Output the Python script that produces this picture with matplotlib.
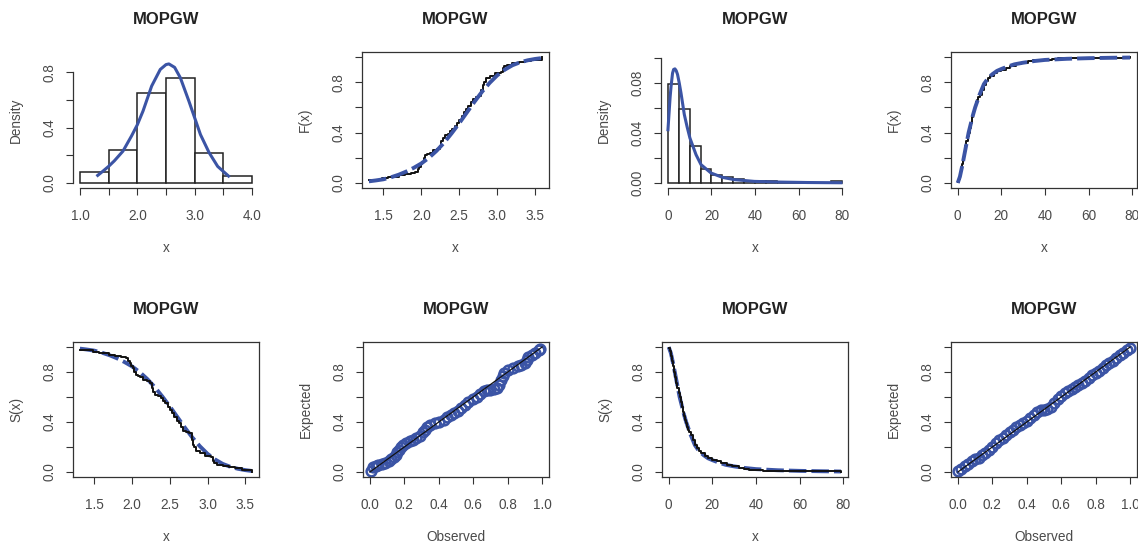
import numpy as np
import matplotlib
matplotlib.use("Agg")
import matplotlib.pyplot as plt

plt.rcParams.update({
    'font.family': ['Liberation Sans', 'DejaVu Sans'],
    'font.size': 9.5,
})

BLUE = "#3b54a5"
GREY = "#4a4a4a"
W, H = 1138, 542

# ---- data set 1 (range 1.31 - 3.59) ----
hist1_breaks = [1.0, 1.5, 2.0, 2.5, 3.0, 3.5, 4.0]
hist1_dens = [0.08, 0.24, 0.65, 0.76, 0.22, 0.05]

pdf1_x = [1.31, 1.40, 1.50, 1.60, 1.75, 1.90, 2.00, 2.10, 2.25, 2.40, 2.50, 2.55,
          2.65, 2.75, 2.90, 3.00, 3.10, 3.25, 3.40, 3.50, 3.59]
pdf1_y = [0.055, 0.085, 0.12, 0.16, 0.23, 0.34, 0.42, 0.52, 0.70, 0.82, 0.855, 0.86,
          0.835, 0.76, 0.59, 0.47, 0.35, 0.22, 0.12, 0.083, 0.05]

ecdf1_x = [1.31, 1.48, 1.56, 1.70, 1.78, 1.86, 1.92, 1.95, 1.97, 1.99, 2.01, 2.03,
           2.05, 2.08, 2.11, 2.15, 2.20, 2.24, 2.26, 2.28, 2.31, 2.35, 2.38, 2.41,
           2.44, 2.47, 2.50, 2.53, 2.56, 2.59, 2.62, 2.65, 2.68, 2.72, 2.76, 2.79,
           2.81, 2.82, 2.85, 2.90, 2.97, 3.05, 3.07, 3.09, 3.13, 3.20, 3.28, 3.36,
           3.45, 3.59]
ecdf1_F = [0.02, 0.04, 0.05, 0.06, 0.07, 0.08, 0.09, 0.11, 0.13, 0.15, 0.17, 0.20,
           0.22, 0.23, 0.24, 0.26, 0.27, 0.29, 0.33, 0.36, 0.38, 0.39, 0.41, 0.43,
           0.45, 0.48, 0.50, 0.53, 0.56, 0.59, 0.61, 0.64, 0.67, 0.68, 0.69, 0.74,
           0.78, 0.80, 0.83, 0.85, 0.87, 0.88, 0.91, 0.93, 0.94, 0.95, 0.96, 0.97,
           0.98, 1.0]

cdf1_x = [1.31, 1.40, 1.50, 1.60, 1.70, 1.80, 1.90, 2.00, 2.10, 2.20, 2.30, 2.40,
          2.50, 2.60, 2.70, 2.80, 2.90, 3.00, 3.10, 3.20, 3.30, 3.40, 3.50, 3.59]
cdf1_F = [0.013, 0.020, 0.029, 0.045, 0.065, 0.090, 0.120, 0.155, 0.200, 0.255, 0.320, 0.395,
          0.475, 0.560, 0.645, 0.725, 0.795, 0.855, 0.900, 0.935, 0.958, 0.974, 0.985, 0.992]

pp1_obs = [0.005, 0.02, 0.035, 0.05, 0.07, 0.09, 0.11, 0.125, 0.14, 0.15, 0.16, 0.17,
           0.18, 0.19, 0.21, 0.23, 0.25, 0.27, 0.29, 0.31, 0.32, 0.33, 0.35, 0.38,
           0.40, 0.43, 0.45, 0.47, 0.49, 0.51, 0.53, 0.55, 0.57, 0.60, 0.62, 0.64,
           0.66, 0.68, 0.70, 0.72, 0.74, 0.75, 0.76, 0.77, 0.78, 0.80, 0.83, 0.86,
           0.88, 0.90, 0.91, 0.92, 0.94, 0.96, 0.98, 0.99]
pp1_exp = [0.01, 0.04, 0.05, 0.055, 0.065, 0.075, 0.09, 0.105, 0.12, 0.14, 0.16, 0.18,
           0.20, 0.215, 0.235, 0.245, 0.255, 0.27, 0.29, 0.32, 0.34, 0.36, 0.375, 0.39,
           0.40, 0.42, 0.44, 0.455, 0.475, 0.49, 0.51, 0.535, 0.56, 0.585, 0.60, 0.625,
           0.645, 0.655, 0.66, 0.665, 0.675, 0.70, 0.74, 0.77, 0.79, 0.82, 0.835, 0.845,
           0.86, 0.875, 0.90, 0.92, 0.935, 0.95, 0.975, 0.985]

# ---- data set 2 (range 0.08 - 79.05) ----
hist2_breaks = [0, 5, 10, 15, 20, 25, 30, 35, 40, 45, 50, 55, 60, 65, 70, 75, 80]
hist2_dens = [0.0797, 0.0594, 0.0297, 0.0109, 0.0063, 0.0047, 0.0031, 0.0016,
              0.0016, 0.0016, 0, 0, 0, 0, 0, 0.0016]

pdf2_x = [0, 0.6, 1.0, 1.4, 2.1, 2.6, 3.2, 3.8, 4.4, 5.2, 6.0, 7.5, 8.8, 10.1,
          12.9, 15.2, 19.8, 25.1, 30.5, 39.7, 50, 64, 79.5]
pdf2_y = [0.0427, 0.0587, 0.069, 0.077, 0.088, 0.091, 0.0915, 0.090, 0.087, 0.080,
          0.072, 0.055, 0.045, 0.036, 0.0227, 0.0147, 0.008, 0.0045, 0.0027, 0.0013,
          0.0008, 0.0004, 0.0002]

ecdf2_x = [0.08, 0.5, 1.0, 1.5, 2.0, 2.5, 3.0, 3.5, 4.0, 4.5, 5.0, 5.5, 6.0, 6.5, 7.0,
           7.5, 8.0, 8.5, 9.0, 9.5, 10.0, 11.0, 12.0, 13.0, 14.0, 15.0, 16.5, 18.0,
           20.0, 22.0, 24.0, 26.5, 29.0, 32.0, 34.5, 37.0, 43.0, 46.0, 79.05]
ecdf2_F = [0.008, 0.03, 0.07, 0.11, 0.15, 0.20, 0.24, 0.29, 0.33, 0.37, 0.40, 0.44,
           0.48, 0.52, 0.55, 0.58, 0.61, 0.64, 0.66, 0.68, 0.70, 0.74, 0.78, 0.81,
           0.83, 0.85, 0.87, 0.89, 0.90, 0.915, 0.93, 0.945, 0.955, 0.965, 0.973,
           0.98, 0.988, 0.992, 1.0]

cdf2_x = [0, 1, 2, 3, 4, 5, 6, 7, 8, 10, 12, 14, 16, 18, 20, 23, 26, 30, 35, 40, 50, 60, 70, 79]
cdf2_F = [0.0, 0.05, 0.13, 0.22, 0.31, 0.40, 0.47, 0.54, 0.60, 0.70, 0.785, 0.835, 0.865,
          0.89, 0.905, 0.925, 0.942, 0.955, 0.968, 0.977, 0.986, 0.991, 0.994, 0.996]

pp2_obs = [0.0, 0.02, 0.04, 0.06, 0.08, 0.10, 0.12, 0.14, 0.16, 0.18, 0.20, 0.22, 0.24,
           0.26, 0.28, 0.30, 0.32, 0.34, 0.36, 0.38, 0.40, 0.42, 0.44, 0.46, 0.48, 0.50,
           0.52, 0.54, 0.56, 0.58, 0.60, 0.62, 0.64, 0.66, 0.68, 0.70, 0.72, 0.74, 0.76,
           0.78, 0.80, 0.82, 0.84, 0.86, 0.88, 0.90, 0.92, 0.94, 0.96, 0.98, 1.0]
pp2_exp = [0.005, 0.025, 0.045, 0.065, 0.09, 0.105, 0.115, 0.14, 0.155, 0.175, 0.20,
           0.235, 0.255, 0.27, 0.295, 0.32, 0.34, 0.36, 0.38, 0.39, 0.405, 0.43, 0.46,
           0.48, 0.495, 0.50, 0.505, 0.52, 0.555, 0.585, 0.61, 0.63, 0.65, 0.665, 0.68,
           0.695, 0.71, 0.725, 0.75, 0.78, 0.795, 0.81, 0.83, 0.86, 0.875, 0.89, 0.91,
           0.935, 0.955, 0.975, 0.99]

fig = plt.figure(figsize=(W / 100, H / 100), dpi=100)


def panel(left, top, right, bottom, xlim, ylim, box=True):
    ax = fig.add_axes([left / W, 1 - bottom / H, (right - left) / W, (bottom - top) / H])
    ax.set_xlim(xlim)
    ax.set_ylim(ylim)
    ax.tick_params(direction='out', length=4.8, width=0.8, color='#333333',
                   labelcolor=GREY, labelsize=9.8)
    ax.tick_params(axis='x', pad=10)
    ax.tick_params(axis='y', pad=7)
    for s in ax.spines.values():
        s.set_color('#333333')
        s.set_linewidth(0.9)
    if not box:
        ax.spines['top'].set_visible(False)
        ax.spines['right'].set_visible(False)
    return ax


def labels(ax, xlab, ylab, hpx, wpx):
    ax.text(0.5, 1 + 33 / hpx, "MOPGW", transform=ax.transAxes, ha='center',
            va='center', fontsize=12, fontweight='bold', color='#222222')
    ax.text(0.5, -60 / hpx, xlab, transform=ax.transAxes, ha='center', va='center',
            color=GREY, fontsize=9.8)
    ax.text(-57 / wpx, 0.5, ylab, transform=ax.transAxes, ha='center', va='center',
            rotation=90, color=GREY, fontsize=9.8)


def yticks(ax, ticks, labs):
    ax.set_yticks(ticks)
    ax.set_yticklabels(labs, rotation=90, va='center')


def xticks(ax, ticks, labs):
    ax.set_xticks(ticks)
    ax.set_xticklabels(labs)


yt = [0, 0.2, 0.4, 0.6, 0.8, 1.0]
ytl = ["0.0", "", "0.4", "", "0.8", ""]

# panel 1: histogram + density, data set 1
ax = panel(73, 52, 259, 188, (0.88, 4.12), (-0.036, 0.946), box=False)
ax.bar(hist1_breaks[:-1], hist1_dens, width=np.diff(hist1_breaks), align='edge',
       facecolor='white', edgecolor='#222222', linewidth=1.1)
ax.plot(pdf1_x, pdf1_y, color=BLUE, lw=2.2)
ax.spines['left'].set_bounds(0, 0.8)
ax.spines['bottom'].set_bounds(1, 4)
xticks(ax, [1, 1.5, 2, 2.5, 3, 3.5, 4], ["1.0", "", "2.0", "", "3.0", "", "4.0"])
yticks(ax, [0, 0.2, 0.4, 0.6, 0.8], ["0.0", "", "0.4", "", "0.8"])
labels(ax, "x", "Density", 136, 186)

# panel 2: ECDF + fitted CDF, data set 1
ax = panel(362, 52, 549, 188, (1.219, 3.681), (-0.04, 1.04))
ax.step(ecdf1_x, ecdf1_F, where='post', color='#111111', lw=1.4)
ax.plot(cdf1_x, cdf1_F, color=BLUE, lw=2.8, dashes=(4.5, 1.3))
xticks(ax, [1.5, 2, 2.5, 3, 3.5], ["1.5", "2.0", "2.5", "3.0", "3.5"])
yticks(ax, yt, ytl)
labels(ax, "x", "F(x)", 136, 187)

# panel 3: histogram + density, data set 2
ax = panel(661, 52, 849, 188, (-3.2, 83.2), (-0.004, 0.105), box=False)
ax.bar(hist2_breaks[:-1], hist2_dens, width=np.diff(hist2_breaks), align='edge',
       facecolor='white', edgecolor='#222222', linewidth=1.1)
ax.plot(pdf2_x, pdf2_y, color=BLUE, lw=2.2)
ax.spines['left'].set_bounds(0, 0.10)
ax.spines['bottom'].set_bounds(0, 80)
xticks(ax, [0, 20, 40, 60, 80], ["0", "20", "40", "60", "80"])
yticks(ax, [0, 0.02, 0.04, 0.06, 0.08, 0.10], ["0.00", "", "0.04", "", "0.08", ""])
labels(ax, "x", "Density", 136, 188)

# panel 4: ECDF + fitted CDF, data set 2
ax = panel(951, 52, 1137, 188, (-3.08, 82.2), (-0.04, 1.04))
ax.step(ecdf2_x, ecdf2_F, where='post', color='#111111', lw=1.4)
ax.plot(cdf2_x, cdf2_F, color=BLUE, lw=2.8, dashes=(4.5, 1.3))
xticks(ax, [0, 20, 40, 60, 80], ["0", "20", "40", "60", "80"])
yticks(ax, yt, ytl)
labels(ax, "x", "F(x)", 136, 186)

# panel 5: empirical + fitted survival, data set 1
ax = panel(73, 342, 259, 477, (1.219, 3.681), (-0.04, 1.04))
ax.plot(cdf1_x, 1 - np.array(cdf1_F), color=BLUE, lw=2.8, dashes=(4.5, 1.3))
ax.step(ecdf1_x, 1 - np.array(ecdf1_F), where='post', color='#111111', lw=1.4)
xticks(ax, [1.5, 2, 2.5, 3, 3.5], ["1.5", "2.0", "2.5", "3.0", "3.5"])
yticks(ax, yt, ytl)
labels(ax, "x", "S(x)", 135, 186)

# panel 6: PP plot, data set 1
ax = panel(363, 342, 549, 477, (-0.04, 1.04), (-0.04, 1.04))
ax.plot(pp1_obs, pp1_exp, 'o', ms=7, mfc='none', mec=BLUE, mew=1.8)
ax.plot([0, 1], [0, 1], color='#111111', lw=0.9)
xt = [0, 0.2, 0.4, 0.6, 0.8, 1.0]
xticks(ax, xt, ["0.0", "0.2", "0.4", "0.6", "0.8", "1.0"])
yticks(ax, yt, ytl)
labels(ax, "Observed", "Expected", 135, 186)

# panel 7: empirical + fitted survival, data set 2
ax = panel(662, 342, 848, 477, (-3.08, 82.2), (-0.04, 1.04))
ax.plot(cdf2_x, 1 - np.array(cdf2_F), color=BLUE, lw=2.8, dashes=(4.5, 1.3))
ax.step(ecdf2_x, 1 - np.array(ecdf2_F), where='post', color='#111111', lw=1.4)
xticks(ax, [0, 20, 40, 60, 80], ["0", "20", "40", "60", "80"])
yticks(ax, yt, ytl)
labels(ax, "x", "S(x)", 135, 186)

# panel 8: PP plot, data set 2
ax = panel(951, 342, 1137, 477, (-0.04, 1.04), (-0.04, 1.04))
ax.plot(pp2_obs, pp2_exp, 'o', ms=7, mfc='none', mec=BLUE, mew=1.8)
ax.plot([0, 1], [0, 1], color='#111111', lw=0.9)
xticks(ax, xt, ["0.0", "0.2", "0.4", "0.6", "0.8", "1.0"])
yticks(ax, yt, ytl)
labels(ax, "Observed", "Expected", 135, 186)

fig.savefig("out.png", dpi=100)
